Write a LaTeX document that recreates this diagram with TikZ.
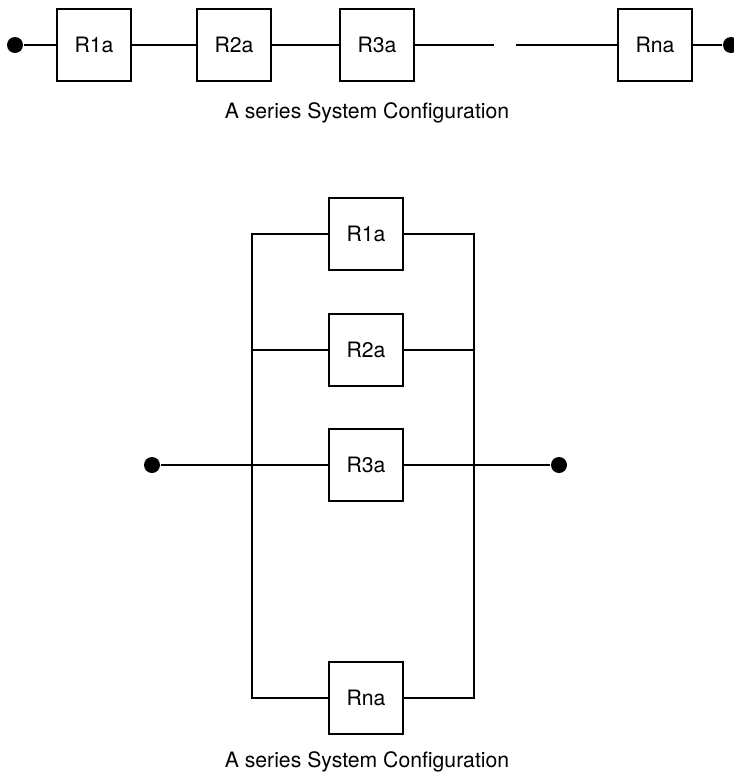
\documentclass[tikz,border=0pt]{standalone}
\usepackage{fontspec}
\setmainfont{TeX Gyre Heros}
\begin{document}
\begin{tikzpicture}[x=0.5pt, y=-0.5pt, line width=0.7pt,
  block/.style={rectangle, draw, minimum width=37pt, minimum height=36pt, inner sep=0pt},
  terminal/.style={circle, fill, minimum size=8pt, inner sep=0pt},
  every node/.style={font=\fontsize{10.6}{12}\selectfont}]
  \useasboundingbox (0,0) rectangle (734,772);
  % series
  \node[terminal] (sa) at (15,45) {};
  \node[block] (s1) at (94,45) {R1a};
  \node[block] (s2) at (234,45) {R2a};
  \node[block] (s3) at (377,45) {R3a};
  \node[block] (sn) at (655,45) {Rna};
  \node[terminal] (sb) at (731,45) {};
  \coordinate (g1) at (494,45);
  \coordinate (g2) at (516,45);
  \draw (sa) -- (s1) -- (s2) -- (s3) -- (g1);
  \draw (g2) -- (sn) -- (sb);
  \node (cap1) at (367,113) {A series System Configuration};
  % parallel
  \node[block] (p1) at (366,234) {R1a};
  \node[block] (p2) at (366,350) {R2a};
  \node[block] (p3) at (366,465) {R3a};
  \node[block] (pn) at (366,698) {Rna};
  \node[terminal] (pa) at (152,465) {};
  \node[terminal] (pb) at (559,465) {};
  \coordinate (lt) at (252,234);
  \coordinate (lb) at (252,698);
  \coordinate (rt) at (474,234);
  \coordinate (rb) at (474,698);
  \draw (p1.west) -- (lt) -- (lb) -- (pn.west);
  \draw (p1.east) -- (rt) -- (rb) -- (pn.east);
  \draw (p2.west) -- (p2.west -| lt);
  \draw (p2.east) -- (p2.east -| rt);
  \draw (pa) -- (p3.west);
  \draw (p3.east) -- (pb);
  \node (cap2) at (367,762) {A series System Configuration};
\end{tikzpicture}
\end{document}
